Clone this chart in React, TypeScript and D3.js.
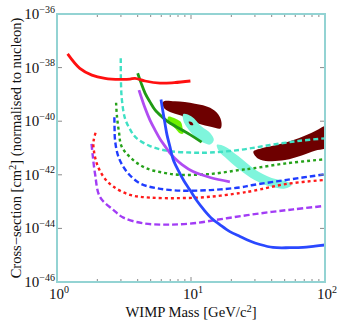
import * as d3 from 'd3';

const WIDTH = 337;
const HEIGHT = 325;
const PLOT = { left: 57, right: 325, top: 14, bottom: 282 };

const FRAME_COLOR = '#93d3d3';
const TICK_COLOR = '#8a8a8a';
const FONT = '"Liberation Serif", "Times New Roman", serif';

// points are [WIMP mass in GeV/c^2, log10 of cross-section in cm^2]
const redSolid = [
  [1.2, -37.49], [1.48, -38.03], [1.82, -38.28], [2.28, -38.4], [2.95, -38.44],
  [3.51, -38.43], [3.82, -38.4], [4.54, -38.5], [5.87, -38.58], [7.5, -38.56], [9.9, -38.5],
];
const tealDashed = [
  [2.99, -37.65], [3.0, -38.5], [3.05, -39.2], [3.22, -39.9], [3.55, -40.35], [3.9, -40.62],
  [4.9, -40.92], [6.58, -41.1], [9.84, -41.17], [13.9, -41.17], [23.2, -41.07],
  [38.9, -40.89], [65, -40.73], [100, -40.64],
];
const greenDashed = [
  [2.76, -39.31], [2.8, -39.8], [2.9, -40.4], [3.04, -40.95], [3.71, -41.45], [4.67, -41.76],
  [6.21, -41.92], [8.28, -42.0], [13.9, -41.97], [23.2, -41.82], [29, -41.76], [51.8, -41.57],
  [100, -41.42],
];
const blueDashed = [
  [2.68, -39.85], [2.69, -40.3], [2.71, -40.7], [2.87, -41.32], [3.31, -41.88], [4.16, -42.32],
  [5.55, -42.5], [8.28, -42.59], [13.9, -42.57], [23.2, -42.47], [29, -42.38], [51.8, -42.19],
  [100, -41.98],
];
const redDashed = [
  [1.94, -40.43], [1.88, -40.7], [1.87, -40.95], [1.98, -41.57], [2.22, -42.07], [2.63, -42.44],
  [3.51, -42.75], [4.94, -42.85], [8.28, -42.87], [13.9, -42.82], [23.2, -42.68], [29, -42.6],
  [51.8, -42.34], [100, -42.19],
];
const purpleDashed = [
  [1.81, -40.85], [1.85, -41.3], [1.92, -41.94], [2.09, -42.82], [2.63, -43.31], [3.13, -43.6],
  [4.41, -43.81], [6.58, -43.86], [10.4, -43.81], [18.5, -43.62], [32.7, -43.44], [58, -43.29],
  [100, -43.16],
];
const greenSolid = [
  [4.0, -38.21], [4.24, -38.57], [4.54, -38.95], [4.94, -39.28], [5.39, -39.58], [6.08, -39.84],
  [6.74, -40.02], [7.6, -40.18], [8.57, -40.33], [9.83, -40.5], [12.0, -40.78],
];
const purpleSolid = [
  [4.09, -38.84], [4.54, -39.51], [4.94, -39.96], [5.39, -40.33], [5.87, -40.66], [6.4, -40.93],
  [6.97, -41.19], [7.6, -41.39], [8.57, -41.62], [10.35, -41.88], [13.9, -42.1], [19.5, -42.26],
];
const blueSolid = [
  [5.97, -39.19], [6.18, -39.66], [6.4, -40.1], [6.62, -40.51], [6.97, -40.96], [7.34, -41.41],
  [8.0, -41.82], [8.87, -42.23], [9.83, -42.57], [11.1, -42.98], [12.5, -43.31], [14.3, -43.63],
  [16.5, -43.87], [19.5, -44.12], [23.2, -44.3], [27.5, -44.47], [32.7, -44.6], [40.9, -44.71],
  [54.8, -44.72], [68.6, -44.71], [84.2, -44.66], [100, -44.62],
];

// closed regions
const maroonLow = [
  [6.21, -39.27], [7.6, -39.26], [10.7, -39.35], [13.9, -39.5], [16.0, -39.75], [16.9, -40.06],
  [16.6, -40.27], [14.3, -40.22], [11.3, -40.09], [9.55, -39.97], [8.52, -39.8], [7.6, -39.72],
  [6.58, -39.59], [6.21, -39.46],
];
const maroonHigh = [
  [29.2, -41.14], [33.7, -41.01], [44.8, -40.87], [59.7, -40.68], [79.6, -40.43], [100, -40.17],
  [118, -40.02], [118, -40.92], [100, -41.03], [84.2, -41.1], [67, -41.28], [50.3, -41.45],
  [37.8, -41.49], [31.8, -41.4],
];
const limeRegion = [
  [6.77, -39.83], [7.3, -39.86], [7.82, -39.93], [8.4, -40.03], [8.65, -40.25], [8.75, -40.46],
  [8.3, -40.46], [7.6, -40.26], [7.0, -40.1], [6.7, -39.95],
];
const tealLobe = [
  [8.77, -39.73], [10.1, -39.82], [12.0, -40.2], [13.9, -40.44], [14.8, -40.7], [13.9, -40.87],
  [12.0, -40.77], [10.4, -40.52], [9.29, -40.22], [8.77, -39.97],
];
const tealIsland = [
  [9.6, -40.02], [10.2, -40.05], [10.4, -40.14], [9.9, -40.14],
];
const tealBand = [
  [15.6, -40.88], [17.9, -40.94], [22.5, -41.3], [30, -41.8], [40, -42.12], [51.8, -42.25],
  [56.4, -42.38], [50.3, -42.51], [40, -42.45], [30, -42.2], [22.5, -41.77], [17.9, -41.34],
  [16, -41.08],
];

const yTickExponents = [-36, -38, -40, -42, -44, -46];
const xTickExponents = [0, 1, 2];

const regions = [
  { key: 'maroon-low', points: maroonLow, fill: '#6e0000' },
  { key: 'maroon-high', points: maroonHigh, fill: '#6e0000' },
  { key: 'lime', points: limeRegion, fill: '#6ff000' },
  { key: 'teal-lobe', points: tealLobe, fill: '#7ff5dc' },
  { key: 'teal-island', points: tealIsland, fill: '#6e0000' },
  { key: 'teal-band', points: tealBand, fill: '#7ff5dc' },
];

const curves = [
  { key: 'purple-dashed', points: purpleDashed, color: '#a23cf5', width: 2.4, dash: '6 3' },
  { key: 'red-dashed', points: redDashed, color: '#ff1a1a', width: 2.4, dash: '3 3' },
  { key: 'blue-dashed', points: blueDashed, color: '#1f3cff', width: 2.4, dash: '5.5 3' },
  { key: 'green-dashed', points: greenDashed, color: '#26a21a', width: 2.4, dash: '3 3' },
  { key: 'teal-dashed', points: tealDashed, color: '#3fe0c4', width: 2.4, dash: '5 3' },
  { key: 'purple-solid', points: purpleSolid, color: '#b04cf2', width: 2.8, dash: null },
  { key: 'green-solid', points: greenSolid, color: '#1f9a14', width: 2.8, dash: null },
  { key: 'blue-solid', points: blueSolid, color: '#2a48ff', width: 2.8, dash: null },
  { key: 'red-solid', points: redSolid, color: '#ff1010', width: 2.8, dash: null },
];

export default function App() {
  const x = d3.scaleLog().domain([1, 100]).range([PLOT.left, PLOT.right]);
  const y = d3.scaleLog().domain([1e-46, 1e-36]).range([PLOT.bottom, PLOT.top]);

  const line = d3.line<number[]>()
    .x((d) => x(d[0]))
    .y((d) => y(10 ** d[1]))
    .curve(d3.curveCatmullRom.alpha(0.5));
  const area = d3.line<number[]>()
    .x((d) => x(d[0]))
    .y((d) => y(10 ** d[1]))
    .curve(d3.curveCatmullRomClosed.alpha(0.5));

  const minorX = x.ticks().filter((v) => ![1, 10, 100].includes(v));
  const plotW = PLOT.right - PLOT.left;
  const plotH = PLOT.bottom - PLOT.top;

  return (
    <svg
      width={WIDTH}
      height={HEIGHT}
      style={{ position: 'absolute', left: 0, top: 0, background: '#fff' }}
      fontFamily={FONT}
    >
      <defs>
        <clipPath id="plot-clip">
          <rect x={PLOT.left} y={PLOT.top} width={plotW} height={plotH} />
        </clipPath>
      </defs>

      <g clipPath="url(#plot-clip)">
        {regions.map((r) => (
          <path key={r.key} d={area(r.points) || ''} fill={r.fill} />
        ))}
        {curves.map((c) => (
          <path
            key={c.key}
            d={line(c.points) || ''}
            fill="none"
            stroke={c.color}
            strokeWidth={c.width}
            strokeDasharray={c.dash || undefined}
          />
        ))}
      </g>

      {/* ticks, drawn inside the frame */}
      <g stroke={TICK_COLOR} strokeWidth={1}>
        {xTickExponents.map((e) => (
          <g key={`xt${e}`}>
            <line x1={x(10 ** e)} x2={x(10 ** e)} y1={PLOT.bottom} y2={PLOT.bottom - 5} />
            <line x1={x(10 ** e)} x2={x(10 ** e)} y1={PLOT.top} y2={PLOT.top + 5} />
          </g>
        ))}
        {minorX.map((v) => (
          <g key={`xm${v}`}>
            <line x1={x(v)} x2={x(v)} y1={PLOT.bottom} y2={PLOT.bottom - 3} />
            <line x1={x(v)} x2={x(v)} y1={PLOT.top} y2={PLOT.top + 3} />
          </g>
        ))}
        {yTickExponents.map((e) => (
          <g key={`yt${e}`}>
            <line x1={PLOT.left} x2={PLOT.left + 5} y1={y(10 ** e)} y2={y(10 ** e)} />
            <line x1={PLOT.right} x2={PLOT.right - 5} y1={y(10 ** e)} y2={y(10 ** e)} />
          </g>
        ))}
      </g>

      <rect
        x={PLOT.left}
        y={PLOT.top}
        width={plotW}
        height={plotH}
        fill="none"
        stroke={FRAME_COLOR}
        strokeWidth={2}
      />

      {yTickExponents.map((e) => (
        <text key={`yl${e}`} x={55} y={y(10 ** e) + 5} textAnchor="end" fontSize={15} fill="#111">
          <tspan>10</tspan>
          <tspan dy={-6.5} fontSize={10}>{`\u2212${-e}`}</tspan>
        </text>
      ))}
      {xTickExponents.map((e) => (
        <text key={`xl${e}`} x={x(10 ** e) + 2} y={299} textAnchor="middle" fontSize={15} fill="#111">
          <tspan>10</tspan>
          <tspan dy={-6.5} fontSize={10}>{String(e)}</tspan>
        </text>
      ))}

      <text x={(PLOT.left + PLOT.right) / 2} y={317} textAnchor="middle" fontSize={14.7} fill="#111">
        <tspan>WIMP Mass [GeV/c</tspan>
        <tspan dy={-5} fontSize={10.5}>2</tspan>
        <tspan dy={5}>]</tspan>
      </text>
      <text
        transform={`translate(20.5,${(PLOT.top + PLOT.bottom) / 2}) rotate(-90)`}
        textAnchor="middle"
        fontSize={14.5}
        fill="#111"
      >
        <tspan>{'Cross\u2212section [cm'}</tspan>
        <tspan dy={-5} fontSize={10.5}>2</tspan>
        <tspan dy={5}>] (normalised to nucleon)</tspan>
      </text>
    </svg>
  );
}
